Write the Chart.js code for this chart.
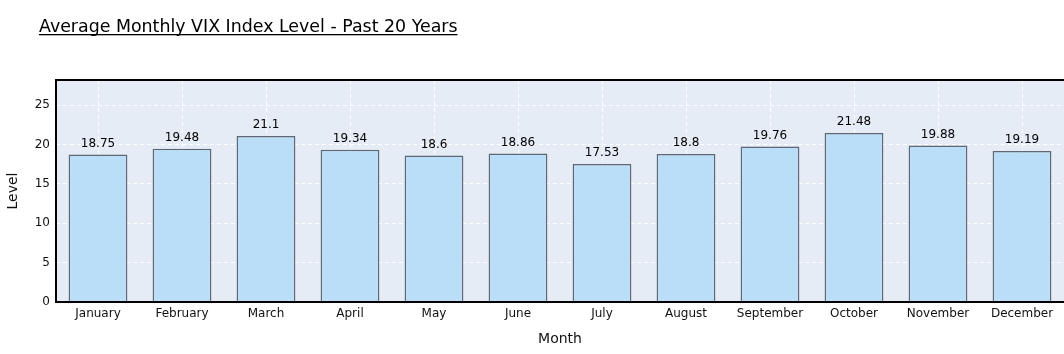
<!DOCTYPE html>
<html><head><meta charset="utf-8">
<script src="https://cdn.jsdelivr.net/npm/chart.js@4"></script>
<style>html,body{margin:0;padding:0;background:#fff;}#wrap{width:1064px;height:354px;position:relative;}</style>
</head><body><div id="wrap"><canvas id="c" width="1064" height="354"></canvas></div>
<script>
const months = ["January","February","March","April","May","June","July","August","September","October","November","December"];
const vixLevels = [18.75,19.48,21.1,19.34,18.6,18.86,17.53,18.8,19.76,21.48,19.88,19.19];
const yTicks = [0,5,10,15,20,25];
const chartTitle = "Average Monthly VIX Index Level - Past 20 Years";

const FONT = "'DejaVu Sans', Verdana, sans-serif";

const plotBg = {
  id: 'plotBg',
  beforeDraw(chart) {
    const ctx = chart.ctx, a = chart.chartArea;
    ctx.save();
    ctx.fillStyle = '#E5ECF6';
    ctx.fillRect(a.left, a.top, a.right - a.left + 2, a.bottom - a.top);
    ctx.restore();
  }
};

const overlay = {
  id: 'overlay',
  afterDatasetsDraw(chart) {
    const ctx = chart.ctx, a = chart.chartArea;
    const meta = chart.getDatasetMeta(0);
    ctx.save();
    ctx.fillStyle = '#000';
    ctx.font = '12px ' + FONT;
    ctx.textAlign = 'center';
    ctx.textBaseline = 'bottom';
    meta.data.forEach((bar, i) => {
      ctx.fillText(String(vixLevels[i]), bar.x, bar.y - 5);
    });
    // border
    ctx.strokeStyle = '#000';
    ctx.lineWidth = 2;
    ctx.beginPath();
    ctx.moveTo(a.right + 2, a.top);
    ctx.lineTo(a.left, a.top);
    ctx.lineTo(a.left, a.bottom);
    ctx.lineTo(a.right + 2, a.bottom);
    ctx.stroke();
    // title
    ctx.font = '17.4px ' + FONT;
    ctx.textAlign = 'left';
    ctx.textBaseline = 'alphabetic';
    ctx.fillStyle = '#000';
    ctx.fillText(chartTitle, 39, 32);
    const w = ctx.measureText(chartTitle).width;
    ctx.fillRect(39, 34, w, 1.3);
    ctx.restore();
  }
};

new Chart(document.getElementById('c'), {
  type: 'bar',
  data: {
    labels: months,
    datasets: [{
      data: vixLevels,
      backgroundColor: '#BBDEF8',
      borderColor: 'rgba(70,80,92,0.85)',
      borderWidth: 1.5,
      categoryPercentage: 1,
      barPercentage: 0.7
    }]
  },
  plugins: [plotBg, overlay],
  options: {
    responsive: false,
    animation: false,
    devicePixelRatio: 1,
    layout: { padding: { top: 80, left: 0, right: 0, bottom: 0 } },
    plugins: { legend: { display: false }, tooltip: { enabled: false }, title: { display: false } },
    scales: {
      x: {
        offset: true,
        grid: { color: '#fff', lineWidth: 1, offset: false, drawTicks: false },
        border: { display: false, dash: [4, 3] },
        ticks: { color: '#111', font: { family: FONT, size: 12 }, padding: 5, maxRotation: 0, autoSkip: false },
        title: { display: true, text: 'Month', color: '#111', font: { family: FONT, size: 14 }, padding: { top: 0, bottom: 6 } },
        afterFit(s) { s.height = 52; }
      },
      y: {
        min: 0, max: 28.2,
        grid: { color: '#fff', lineWidth: 1, drawTicks: false },
        border: { display: false, dash: [4, 3] },
        ticks: { stepSize: 5, color: '#111', font: { family: FONT, size: 12 }, padding: 6 },
        afterBuildTicks(s) { s.ticks = yTicks.map(v => ({ value: v })); },
        title: { display: true, text: 'Level', color: '#111', font: { family: FONT, size: 14 }, padding: { top: 5, bottom: 0 } },
        afterFit(s) { s.width = 56; }
      }
    }
  }
});
</script>
</body></html>
